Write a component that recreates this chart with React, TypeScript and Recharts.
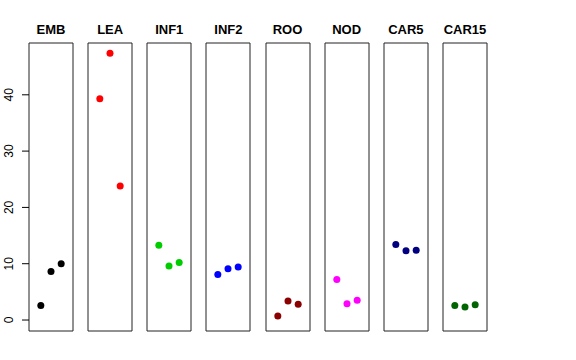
import { ScatterChart, Scatter, XAxis, YAxis, ReferenceArea } from 'recharts'

const panelNames = ['EMB', 'LEA', 'INF1', 'INF2', 'ROO', 'NOD', 'CAR5', 'CAR15']
const panelColors = ['#000000', '#FF0000', '#00CD00', '#0000FF', '#8B0000', '#FF00FF', '#000080', '#006400']

const emb = [2.6, 8.6, 10.0]
const lea = [39.3, 47.4, 23.8]
const inf1 = [13.3, 9.6, 10.2]
const inf2 = [8.1, 9.1, 9.4]
const roo = [0.7, 3.4, 2.8]
const nod = [7.2, 2.9, 3.5]
const car5 = [13.4, 12.3, 12.4]
const car15 = [2.6, 2.3, 2.7]

const replicates = [1, 2, 3]
const yTicks = [0, 10, 20, 30, 40]

const series = [emb, lea, inf1, inf2, roo, nod, car5, car15]

const X_DOMAIN: [number, number] = [-0.16, 4.16]
const Y_DOMAIN: [number, number] = [-1.95, 49.2]
const PLOT_W = 44
const PITCH = 59.14
const FIRST_LEFT = 29
const TOP = 43
const BOTTOM = 29
const H = 360

function VerticalTick(props: any) {
  const { x, y, payload } = props
  const tx = x - 7
  return (
    <text
      x={tx}
      y={y}
      transform={`rotate(-90 ${tx} ${y})`}
      textAnchor="middle"
      fontSize={12}
      fill="#000"
      fontFamily="'Liberation Sans', Arial, sans-serif"
    >
      {payload.value}
    </text>
  )
}

function Panel({ idx }: { idx: number }) {
  const data = replicates.map((r, i) => ({ x: r, y: series[idx][i] }))
  const first = idx === 0
  const plotLeft = FIRST_LEFT + PITCH * idx
  const chartLeft = first ? 0 : plotLeft - 1
  const width = first ? FIRST_LEFT + PLOT_W + 1 : PLOT_W + 2
  return (
    <div style={{ position: 'absolute', left: chartLeft, top: 0 }}>
      <ScatterChart
        width={width}
        height={H}
        margin={{ top: TOP, bottom: BOTTOM, left: first ? 0 : 1, right: 1 }}
      >
        <XAxis type="number" dataKey="x" domain={X_DOMAIN} hide allowDataOverflow />
        <YAxis
          type="number"
          dataKey="y"
          domain={Y_DOMAIN}
          ticks={yTicks}
          hide={!first}
          width={FIRST_LEFT}
          axisLine={false}
          tickSize={7}
          tickLine={{ stroke: '#000' }}
          tick={<VerticalTick />}
          allowDataOverflow
          interval={0}
        />
        <ReferenceArea
          x1={X_DOMAIN[0]}
          x2={X_DOMAIN[1]}
          y1={Y_DOMAIN[0]}
          y2={Y_DOMAIN[1]}
          fill="none"
          stroke="#222"
          strokeWidth={1}
          fillOpacity={0}
        />
        <Scatter
          data={data}
          fill={panelColors[idx]}
          isAnimationActive={false}
          shape={(p: any) => <circle cx={p.cx} cy={p.cy} r={3.5} fill={panelColors[idx]} />}
        />
      </ScatterChart>
      <div
        style={{
          position: 'absolute',
          left: first ? FIRST_LEFT - 10 : -9,
          top: 22,
          width: PLOT_W + 20,
          textAlign: 'center',
          fontFamily: "'Liberation Sans', Arial, sans-serif",
          fontWeight: 'bold',
          fontSize: 13,
          lineHeight: '15px',
        }}
      >
        {panelNames[idx]}
      </div>
    </div>
  )
}

export default function App() {
  return (
    <div style={{ position: 'absolute', left: 0, top: 0, width: 576, height: 360, background: '#fff' }}>
      {panelNames.map((name, i) => (
        <Panel key={name} idx={i} />
      ))}
    </div>
  )
}
